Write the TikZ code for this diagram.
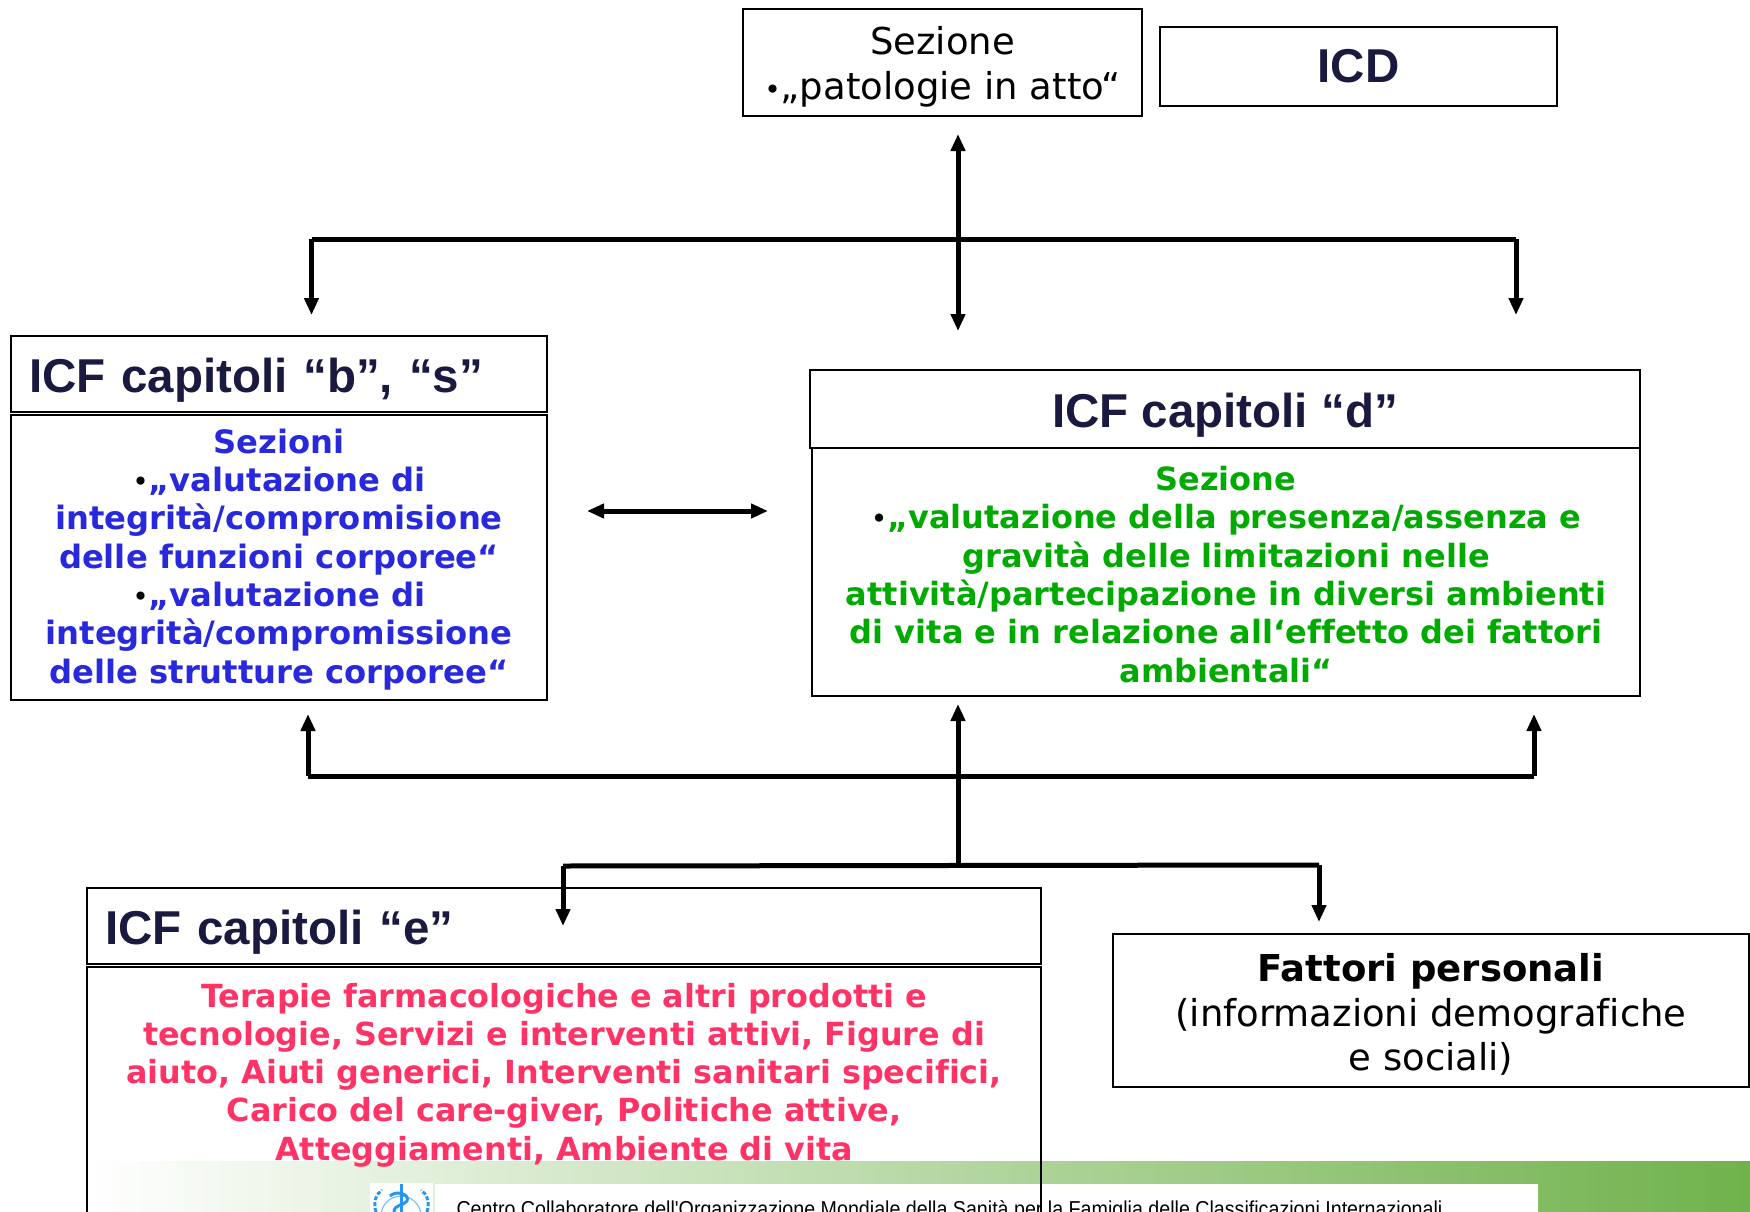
\documentclass[tikz,border=0pt]{standalone}
\usepackage{fontspec}
\setmainfont[Ligatures=NoCommon]{DejaVu Sans}
\newfontfamily\headfont{Liberation Sans}
\newfontfamily\footfont[FakeStretch=0.91]{Liberation Sans}
\usetikzlibrary{arrows.meta, positioning}
\definecolor{navyhead}{RGB}{26,26,64}
\definecolor{bluetext}{RGB}{40,40,220}
\definecolor{greentext}{RGB}{0,170,0}
\definecolor{pinktext}{RGB}{255,51,102}
\definecolor{gradgreen}{RGB}{112,178,76}
\definecolor{gradmid}{RGB}{198,216,186}
\definecolor{whoblue}{RGB}{40,150,240}
\newcommand{\blt}{{\color{black}\mdseries\fontsize{28}{28}\selectfont•}}

\begin{document}
\begin{tikzpicture}[x=1pt, y=-1pt, >={Stealth[length=17pt,width=14pt,inset=0pt]}, line width=5pt,
  box/.style={draw, line width=2.4pt, rectangle, inner sep=0pt, outer sep=0pt, align=center},
  headbox/.style={box, font=\headfont\bfseries\fontsize{47.5}{52}\selectfont, text=navyhead},
  icfhead/.style={headbox, text height=36pt, text depth=0pt},
  plainbox/.style={box, font=\fontsize{37}{44.6}\selectfont},
  bodytext/.style={font=\bfseries\fontsize{31.8}{38.3}\selectfont, align=center}]

\useasboundingbox (0,0) rectangle (1750,1212);
\clip (0,0) rectangle (1750,1212);

% Footer
\shade[left color=white, middle color=gradmid, right color=gradgreen] (86,1161) rectangle (1750,1212);
\fill[white] (435,1184) rectangle (1538,1212);
\fill[white] (370,1183) rectangle (433,1212);
\node[anchor=base west, inner sep=0pt, font=\footfont\fontsize{21.6}{24}\selectfont] (footer) at (454,1216) {Centro Collaboratore dell'Organizzazione Mondiale della Sanità per la Famiglia delle Classificazioni Internazionali};
% WHO logo
\draw[whoblue!60, line width=1.2pt] (401,1216) circle (20);
\draw[whoblue, line width=3pt] (401,1184) -- (401,1212);
\draw[whoblue, line width=3pt] (390,1196) .. controls (396,1190) and (410,1194) .. (407,1201) .. controls (404,1206) and (394,1204) .. (394,1212);
\draw[whoblue, line width=3pt, dash pattern=on 4pt off 2pt] (376,1212) .. controls (373,1202) and (376,1194) .. (382,1190);
\draw[whoblue, line width=3pt, dash pattern=on 4pt off 2pt] (427,1212) .. controls (430,1202) and (427,1194) .. (421,1190);

% Nodes
\node[plainbox, minimum width=399pt, minimum height=107pt, anchor=north west] (sez) at (743,9) {\rule{0pt}{37pt}Sezione\\\blt„patologie in atto“};
\node[headbox, minimum width=397pt, minimum height=79pt, anchor=north west, line width=1.8pt] (icd) at (1160,27) {ICD};

\node[icfhead, minimum width=536pt, minimum height=76pt, anchor=north west, text width=500pt, align=left] (bshead) at (11,336) {ICF capitoli “b”, “s”};
\node[box, minimum width=536pt, minimum height=285pt, below=3pt of bshead.south, text=bluetext, font=\bfseries\fontsize{32.2}{38.3}\selectfont] (bsbody) {\rule{0pt}{28pt}Sezioni\\\blt„valutazione di\\integrità/compromisione\\delle funzioni corporee“\\\blt„valutazione di\\integrità/compromissione\\delle strutture corporee“};

\node[icfhead, minimum width=830pt, minimum height=78pt, anchor=north west] (dhead) at (810,370) {ICF capitoli “d”};
\node[box, minimum width=828pt, minimum height=248pt, anchor=north east, text=greentext, font=\bfseries\fontsize{32}{38.3}\selectfont] (dbody) at (dhead.south east) {\rule{0pt}{29pt}Sezione\\\blt„valutazione della presenza/assenza e\\gravità delle limitazioni nelle\\attività/partecipazione in diversi ambienti\\di vita e in relazione all‘effetto dei fattori\\ambientali“};

\node[icfhead, minimum width=954pt, minimum height=76pt, anchor=north west, text width=918pt, align=left] (ehead) at (87,888) {ICF capitoli “e”};
\node[box, minimum width=954pt, minimum height=300pt, below=3pt of ehead.south] (ebody) {};
\node[bodytext, text=pinktext, below=10pt of ebody.north] (etext) {Terapie farmacologiche e altri prodotti e\\tecnologie, Servizi e interventi attivi, Figure di\\aiuto, Aiuti generici, Interventi sanitari specifici,\\Carico del care-giver, Politiche attive,\\Atteggiamenti, Ambiente di vita};

\node[plainbox, minimum width=636pt, minimum height=153pt, anchor=north west] (pers) at (1113,934) {\rule{0pt}{36pt}\textbf{Fattori personali}\\(informazioni demografiche\\e sociali)};

% Coordinates
\coordinate (sezIn) at (958,134);
\coordinate (dIn) at (958,331);
\coordinate (topL) at (311.5,239);
\coordinate (topR) at (1516,239);
\coordinate (bsIn) at (311.5,315);
\coordinate (rIn) at (1516,315);
\coordinate (bdL) at (587,511);
\coordinate (bdR) at (768,511);
\coordinate (midL) at (308,776);
\coordinate (midR) at (1534,776);
\coordinate (bsUp) at (308,714);
\coordinate (dUpR) at (1534,714);
\coordinate (dUp) at (958,704);
\coordinate (fork) at (958,865);
\coordinate (lowL) at (563,866);
\coordinate (lowR) at (1319,865);
\coordinate (eIn) at (563,926);
\coordinate (persIn) at (1319,922);

% Edges
\draw[<->] (sezIn) -- (dIn);
\draw (topL) -- (topR);
\draw[->] (topL) -- (bsIn);
\draw[->] (topR) -- (rIn);
\draw[<->] (bdL) -- (bdR);
\draw (midL) -- (midR);
\draw[->] (midL) -- (bsUp);
\draw[->] (midR) -- (dUpR);
\draw[->] (fork) -- (dUp);
\draw (lowL) -- (lowR);
\draw[->] (lowL) -- (eIn);
\draw[->] (lowR) -- (persIn);

\end{tikzpicture}
\end{document}
